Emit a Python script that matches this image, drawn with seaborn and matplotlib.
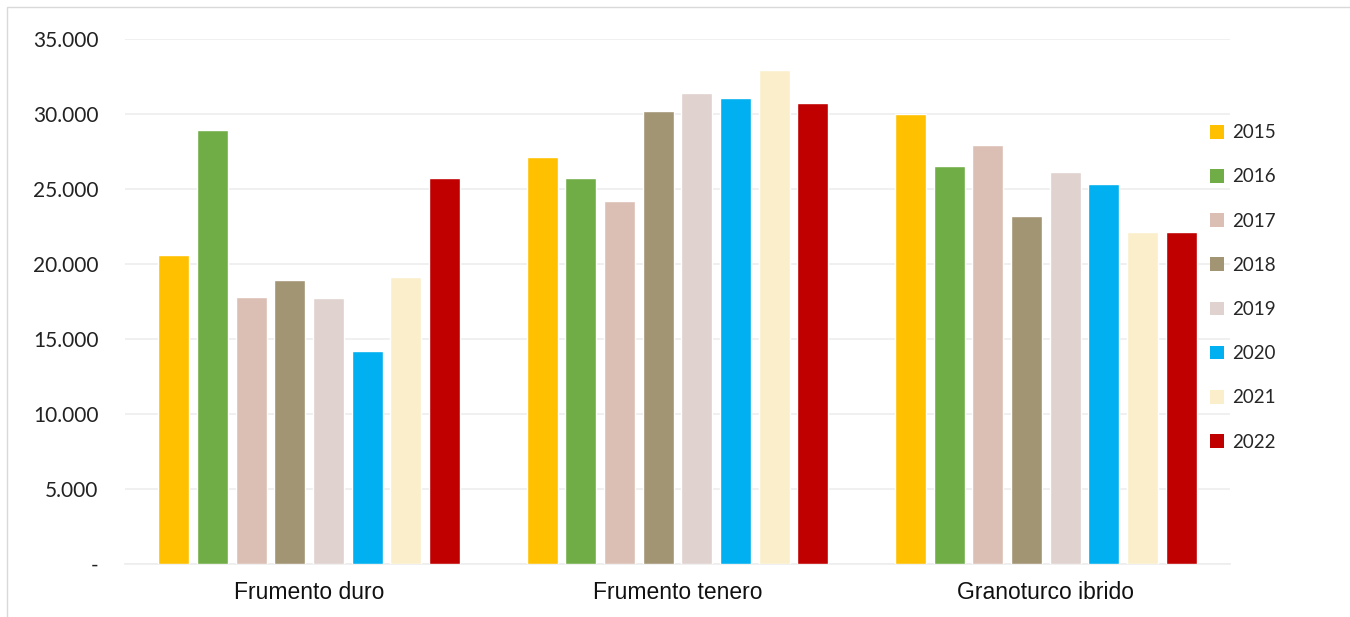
"""Bar chart of crop values by year"""
import matplotlib
matplotlib.use('Agg')
import matplotlib.pyplot as plt
from matplotlib.patches import Rectangle, Patch
from matplotlib.ticker import FuncFormatter
import seaborn as sns
import pandas as pd

# Data
categories = ['Frumento duro', 'Frumento tenero', 'Granoturco ibrido']
years = ['2015', '2016', '2017', '2018', '2019', '2020', '2021', '2022']
duro = [20600, 28900, 17800, 18900, 17700, 14200, 19100, 25750]
tenero = [27100, 25750, 24200, 30200, 31400, 31050, 32900, 30700]
granoturco = [30000, 26500, 27900, 23200, 26100, 25300, 22100, 22100]
colors = ['#FFC000', '#70AD47', '#DBBFB4', '#A29573', '#E0D2CF',
          '#00B0F0', '#FBEECA', '#C00000']

rows = []
for cat, vals in zip(categories, [duro, tenero, granoturco]):
    for year, v in zip(years, vals):
        rows.append({'categoria': cat, 'anno': year, 'valore': v})
df = pd.DataFrame(rows)

sns.set_style('white')
plt.rcParams['font.family'] = ['Lato', 'DejaVu Sans']

fig = plt.figure(figsize=(13.5, 6.17), dpi=100)
ax = fig.add_axes([0.0926, 0.086, 0.8185, 0.851])

sns.barplot(data=df, x='categoria', y='valore', hue='anno',
            palette=colors, width=0.84, gap=0.2, ax=ax,
            saturation=1, legend=False, zorder=3)

ax.set_ylim(0, 35000)
ax.set_xlim(-0.5, 2.5)
ax.set_yticks(range(0, 35001, 5000))
ax.yaxis.set_major_formatter(FuncFormatter(
    lambda v, p: '-' if v == 0 else f'{int(v):,}'.replace(',', '.')))
ax.grid(axis='y', color='#EDEDED', linewidth=1.2, zorder=0)
ax.set_axisbelow(True)
ax.set(xlabel='', ylabel='')
for side in ['top', 'right', 'left']:
    ax.spines[side].set_visible(False)
ax.spines['bottom'].set_color('#EDEDED')
ax.spines['bottom'].set_linewidth(1.2)
ax.tick_params(axis='y', length=0, labelsize=15, pad=19, colors='#222222')
ax.tick_params(axis='x', length=0, labelsize=16.5, pad=12, colors='#111111')
for lab in ax.get_xticklabels():
    lab.set_fontfamily(['Liberation Sans', 'DejaVu Sans'])

handles = [Patch(facecolor=c, edgecolor='none') for c in colors]
fig.legend(handles, years, loc='upper left', bbox_to_anchor=(0.884, 0.826),
           frameon=False, fontsize=13.5, handlelength=0.75, handleheight=0.75,
           handletextpad=0.4, labelspacing=1.45)

# Light border around the chart area
fig.patches.append(Rectangle((0.005, -0.01), 1.2, 0.998, transform=fig.transFigure,
                             fill=False, edgecolor='#D9D9D9', linewidth=1))

fig.savefig('out.png', dpi=100)
